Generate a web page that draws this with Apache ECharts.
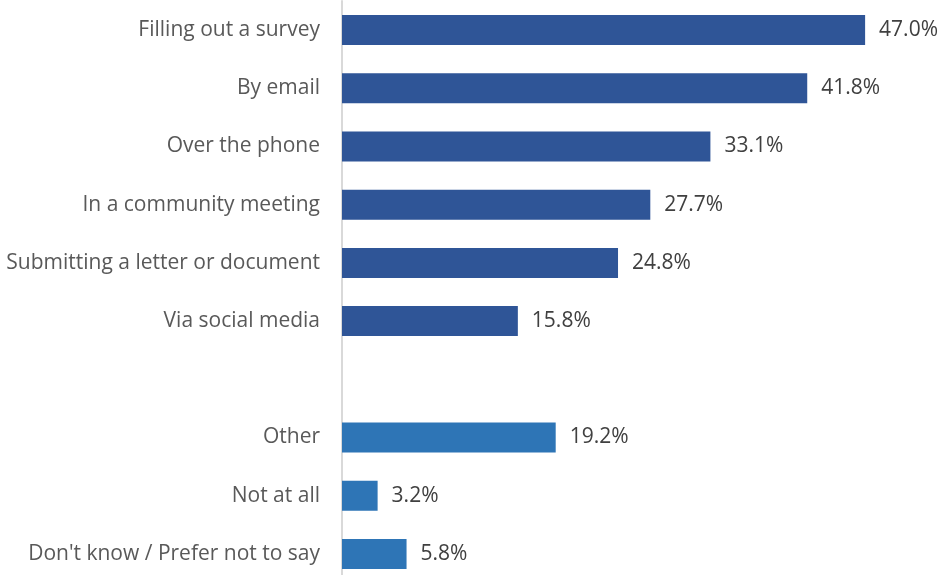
<!DOCTYPE html>
<html>
<head>
<meta charset="utf-8">
<style>
  html, body { margin: 0; padding: 0; background: #fff; overflow: hidden; }
  #chart { width: 942px; height: 584px; }
</style>
<script src="https://cdn.jsdelivr.net/npm/echarts@6/dist/echarts.min.js"></script>
</head>
<body>
<div id="chart"></div>
<script>
// Ways of giving feedback, top to bottom (blank row separates the two groups)
const categories = [
  'Filling out a survey',
  'By email',
  'Over the phone',
  'In a community meeting',
  'Submitting a letter or document',
  'Via social media',
  '',
  'Other',
  'Not at all',
  "Don't know / Prefer not to say"
];
const mainValues = [47.0, 41.8, 33.1, 27.7, 24.8, 15.8, null, null, null, null];
const otherValues = [null, null, null, null, null, null, null, 19.2, 3.2, 5.8];

const FONT = 'Open Sans';
const chart = echarts.init(document.getElementById('chart'));

const labelCfg = {
  show: true,
  position: 'right',
  distance: 14,
  color: '#404040',
  fontFamily: FONT,
  fontSize: 21,
  formatter: p => p.value.toFixed(1) + '%'
};

chart.setOption({
  animation: false,
  grid: { left: 342, top: 1, width: 556.5, height: 582, containLabel: false },
  xAxis: {
    type: 'value',
    min: 0,
    max: 50,
    show: false
  },
  yAxis: {
    type: 'category',
    inverse: true,
    data: categories,
    axisLine: { show: true, lineStyle: { color: '#d9d9d9', width: 2 } },
    axisTick: { show: false },
    axisLabel: { color: '#595959', fontFamily: FONT, fontSize: 21, margin: 22 }
  },
  series: [
    {
      type: 'bar',
      data: mainValues,
      barWidth: 30,
      barGap: '-100%',
      itemStyle: { color: '#2F5597' },
      label: labelCfg
    },
    {
      type: 'bar',
      data: otherValues,
      barWidth: 30,
      barGap: '-100%',
      itemStyle: { color: '#2E75B6' },
      label: labelCfg
    }
  ]
});
</script>
</body>
</html>
